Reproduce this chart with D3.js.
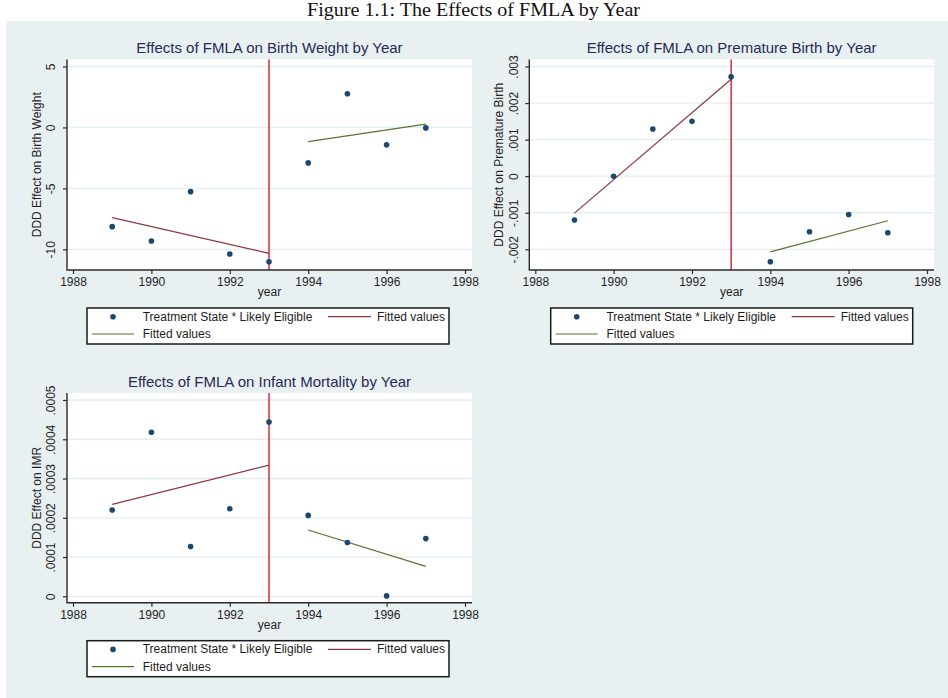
<!DOCTYPE html>
<meta charset="utf-8">
<style>
  body { margin: 0; background: #fff; }
  svg text { font-family: "Liberation Sans", Arial, sans-serif; }
</style>
<body>
<script src="https://d3js.org/d3.v7.min.js"></script>
<script>

// values
var years = [1989, 1990, 1991, 1992, 1993, 1994, 1995, 1996, 1997];
var birthWeight = [-8.14, -9.32, -5.27, -10.39, -11.02, -2.91, 2.76, -1.43, -0.04];
var premature = [-0.00120, 0.00000, 0.00129, 0.00150, 0.00272, -0.00234, -0.00152, -0.00105, -0.00155];
var infantMort = [0.000220, 0.000418, 0.000127, 0.000223, 0.000444, 0.000206, 0.000137, 0.000001, 0.000147];

// fitted lines, end points only
var fitPreYears = [1989, 1993];
var fitPostYears = [1994, 1997];
var bwFitPre = [-7.40, -10.33], bwFitPost = [-1.16, 0.27];
var pbFitPre = [-0.00101, 0.00265], pbFitPost = [-0.00207, -0.00122];
var imFitPre = [0.000234, 0.000334], imFitPost = [0.000169, 0.0000763];

var cutYear = 1993;
var xTicks = [1988, 1990, 1992, 1994, 1996, 1998];
var bwTicks = [-10, -5, 0, 5];
var bwTickLabels = ['-10', '-5', '0', '5'];
var pbTicks = [-0.002, -0.001, 0, 0.001, 0.002, 0.003];
var pbTickLabels = ['-.002', '-.001', '0', '.001', '.002', '.003'];
var imTicks = [0, 0.0001, 0.0002, 0.0003, 0.0004, 0.0005];
var imTickLabels = ['0', '.0001', '.0002', '.0003', '.0004', '.0005'];

var legendLabels = ['Treatment State * Likely Eligible', 'Fitted values', 'Fitted values'];

var C = {
  bg: '#e9f0f2', grid: '#e4edf0', navy: '#1a476f', maroon: '#90353b',
  green: '#55752f', cut: '#d62a3c', axis: '#2b2b2b', title: '#262a55', text: '#1e1e1e'
};

var W = 948, H = 698;
var svg = d3.select('body').append('svg')
  .attr('width', W).attr('height', H);

svg.append('rect')
  .attr('x', 6).attr('y', 21).attr('width', W - 6).attr('height', H - 21)
  .attr('fill', C.bg);

svg.append('text')
  .attr('x', 307).attr('y', 16)
  .attr('textLength', 333).attr('lengthAdjust', 'spacingAndGlyphs')
  .style('font-family', '"Liberation Serif", "DejaVu Serif", serif')
  .style('font-size', '18px')
  .attr('fill', '#111')
  .text('Figure 1.1: The Effects of FMLA by Year');

function panel(p) {
  var g = svg.append('g');
  var x = d3.scaleLinear().domain([1988, 1998]).range([p.l + 6, p.r - 7]);
  var y = d3.scaleLinear()
    .domain([p.ticks[0], p.ticks[p.ticks.length - 1]])
    .range([p.b - p.padB, p.t + 7]);

  g.append('rect')
    .attr('x', p.l).attr('y', p.t)
    .attr('width', p.r - p.l).attr('height', p.b - p.t)
    .attr('fill', '#fff');

  g.selectAll('line.grid').data(p.ticks).enter().append('line')
    .attr('class', 'grid')
    .attr('x1', p.l).attr('x2', p.r)
    .attr('y1', d => y(d)).attr('y2', d => y(d))
    .attr('stroke', C.grid).attr('stroke-width', 1.3);

  // title
  g.append('text')
    .attr('x', (p.l + p.r) / 2).attr('y', p.t - 6.5)
    .attr('text-anchor', 'middle')
    .style('font-size', '15px')
    .attr('fill', C.title)
    .text(p.title);

  // cut-off line
  g.append('line')
    .attr('x1', x(cutYear)).attr('x2', x(cutYear))
    .attr('y1', p.t).attr('y2', p.b)
    .attr('stroke', C.cut).attr('stroke-width', 1.5);

  var line = d3.line().x(d => x(d[0])).y(d => y(d[1]));
  g.append('path')
    .attr('d', line(d3.zip(fitPreYears, p.fitPre)))
    .attr('fill', 'none').attr('stroke', C.maroon).attr('stroke-width', 1.2);
  g.append('path')
    .attr('d', line(d3.zip(fitPostYears, p.fitPost)))
    .attr('fill', 'none').attr('stroke', C.green).attr('stroke-width', 1.2);

  g.selectAll('circle.pt').data(d3.zip(years, p.values)).enter().append('circle')
    .attr('class', 'pt')
    .attr('cx', d => x(d[0])).attr('cy', d => y(d[1]))
    .attr('r', 2.8).attr('fill', C.navy);

  // axes
  var xa = g.append('g').attr('transform', 'translate(0,' + p.b + ')')
    .call(d3.axisBottom(x).tickValues(xTicks).tickFormat(d3.format('d')).tickSize(4).tickSizeOuter(0));
  xa.select('.domain').remove();
  xa.selectAll('line').attr('stroke', C.axis).attr('stroke-width', 1.2);
  xa.selectAll('text').attr('y', 7.5).attr('dy', '0.71em')
    .style('font-size', '12px').attr('fill', C.text);

  var ya = g.append('g').attr('transform', 'translate(' + p.l + ',0)')
    .call(d3.axisLeft(y).tickValues(p.ticks).tickFormat((d, i) => p.tickLabels[i]).tickSize(4).tickSizeOuter(0));
  ya.select('.domain').remove();
  ya.selectAll('line').attr('stroke', C.axis).attr('stroke-width', 1.2);
  ya.selectAll('text')
    .attr('transform', 'rotate(-90)')
    .attr('x', 0).attr('y', -p.labOff).attr('dy', null)
    .attr('text-anchor', 'middle')
    .attr('dominant-baseline', 'central')
    .style('font-size', '12px').attr('fill', C.text);

  g.append('path')
    .attr('d', 'M' + p.l + ',' + p.t + 'V' + p.b + 'H' + p.r)
    .attr('fill', 'none').attr('stroke', C.axis).attr('stroke-width', 1.4);

  g.append('text')
    .attr('x', (p.l + p.r) / 2).attr('y', p.b + 26)
    .attr('text-anchor', 'middle')
    .style('font-size', '12px').attr('fill', C.text)
    .text('year');

  g.append('text')
    .attr('transform', 'translate(' + (p.l - 30) + ',' + (p.t + p.b) / 2 + ') rotate(-90)')
    .attr('text-anchor', 'middle')
    .attr('dominant-baseline', 'central')
    .style('font-size', '12px').attr('fill', C.text)
    .text(p.ytitle);

  // legend
  var lx = p.l + p.legOff, ly = p.b + 38;
  var lg = g.append('g').attr('transform', 'translate(' + lx + ',' + ly + ')');
  lg.append('rect')
    .attr('width', 362).attr('height', 36)
    .attr('fill', '#fff').attr('stroke', '#1a1a1a').attr('stroke-width', 1.5);
  lg.append('circle').attr('cx', 26).attr('cy', 8.7).attr('r', 2.8).attr('fill', C.navy);
  lg.append('line').attr('x1', 241).attr('x2', 284).attr('y1', 8.7).attr('y2', 8.7)
    .attr('stroke', C.maroon).attr('stroke-width', 1.2);
  lg.append('line').attr('x1', 5).attr('x2', 47).attr('y1', 26).attr('y2', 26)
    .attr('stroke', C.green).attr('stroke-width', 1.2);
  var lpos = [[55.7, 8.7], [290, 8.7], [55.7, 26]];
  lg.selectAll('text.lab').data(legendLabels).enter().append('text')
    .attr('class', 'lab')
    .attr('x', (d, i) => lpos[i][0]).attr('y', (d, i) => lpos[i][1])
    .attr('dominant-baseline', 'central')
    .style('font-size', '12px').attr('fill', C.text)
    .text(d => d);
}

panel({
  title: 'Effects of FMLA on Birth Weight by Year',
  ytitle: 'DDD Effect on Birth Weight',
  l: 67, r: 472, t: 59.5, b: 270, padB: 20.7, labOff: 16, legOff: 20,
  ticks: bwTicks, tickLabels: bwTickLabels,
  values: birthWeight, fitPre: bwFitPre, fitPost: bwFitPost
});

panel({
  title: 'Effects of FMLA on Premature Birth by Year',
  ytitle: 'DDD Effect on Premature Birth',
  l: 529.3, r: 934, t: 59.5, b: 270, padB: 20.7, labOff: 15, legOff: 21.4,
  ticks: pbTicks, tickLabels: pbTickLabels,
  values: premature, fitPre: pbFitPre, fitPost: pbFitPost
});

panel({
  title: 'Effects of FMLA on Infant Mortality by Year',
  ytitle: 'DDD Effect on IMR',
  l: 67, r: 472, t: 393, b: 602.7, padB: 6.4, labOff: 16, legOff: 20,
  ticks: imTicks, tickLabels: imTickLabels,
  values: infantMort, fitPre: imFitPre, fitPost: imFitPost
});

</script>
</body>
